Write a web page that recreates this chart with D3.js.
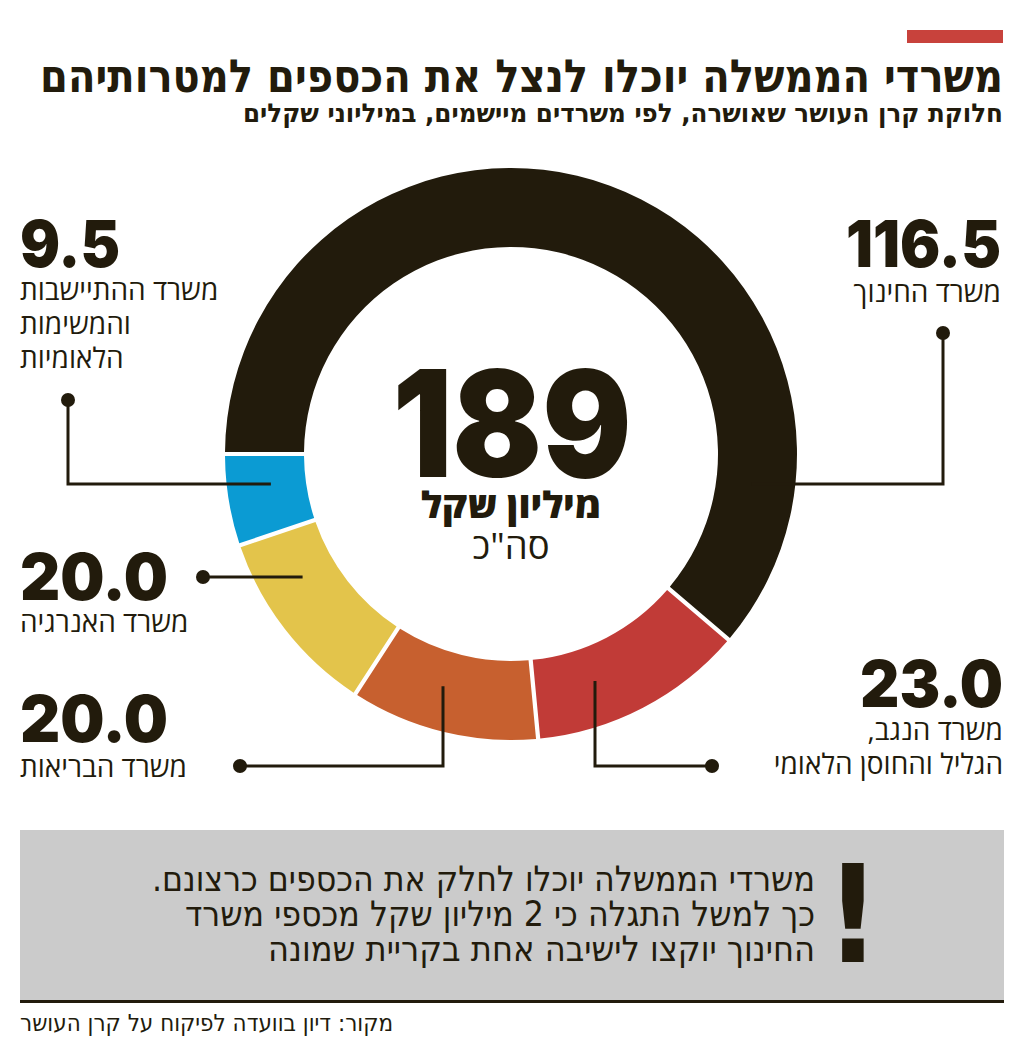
<!DOCTYPE html>
<html lang="he">
<head>
<meta charset="UTF-8">
<title>קרן העושר</title>
<script src="https://d3js.org/d3.v7.min.js"></script>
<style>
  body { margin: 0; background: #fff; }
  svg { display: block; }
  .heb { direction: rtl; }
  .num { font-family: Inter, Lato, sans-serif; font-weight: 900; fill: #221b0c; }
  .lbl { font-family: "Open Sans", "DejaVu Sans", sans-serif; fill: #221b0c; }
  .cond { font-family: "DejaVu Sans Condensed", "Liberation Sans Narrow", sans-serif; fill: #221b0c; }
</style>
</head>
<body>
<svg id="chart" width="1024" height="1047"></svg>
<script>
// data
const offices = ["משרד החינוך", "משרד הנגב, הגליל והחוסן הלאומי", "משרד הבריאות", "משרד האנרגיה", "משרד ההתיישבות והמשימות הלאומיות"];
const labelLines = [
  ["משרד החינוך"],
  ["משרד הנגב,", "הגליל והחוסן הלאומי"],
  ["משרד הבריאות"],
  ["משרד האנרגיה"],
  ["משרד ההתיישבות", "והמשימות", "הלאומיות"]
];
const amounts = [116.5, 23.0, 20.0, 20.0, 9.5];
const sliceColors = ["#221b0c", "#c13b37", "#c7602f", "#e3c44b", "#0b9bd3"];

const title = "משרדי הממשלה יוכלו לנצל את הכספים למטרותיהם";
const subtitle = "חלוקת קרן העושר שאושרה, לפי משרדים מיישמים, במיליוני שקלים";
const centerUnit = "מיליון שקל";
const centerNote = "סה\"כ";
const noteLines = ["משרדי הממשלה יוכלו לחלק את הכספים כרצונם.", "כך למשל התגלה כי 2 מיליון שקל מכספי משרד", "החינוך יוקצו לישיבה אחת בקריית שמונה"];
const source = "מקור: דיון בוועדה לפיקוח על קרן העושר";

// layout (per slice, same order as amounts)
const layout = [
  { side: "right", x: 1001, numY: 267, numW: 155, lblY: 302, leader: { mode: "h", y: 484, cornerX: 943, dotY: 333 } },
  { side: "right", x: 1003, numY: 707, numW: 143, lblY: 740, leader: { mode: "v", x: 595, dotX: 712, dotY: 766 } },
  { side: "left",  x: 20,   numY: 742, numW: 148, lblY: 777, leader: { mode: "v", x: 443, dotX: 240, dotY: 766 } },
  { side: "left",  x: 20,   numY: 600, numW: 148, lblY: 632, leader: { mode: "h", y: 577, cornerX: 203, dotY: 577 } },
  { side: "left",  x: 20,   numY: 267, numW: 100, lblY: 300, leader: { mode: "h", y: 484, cornerX: 68, dotY: 400 } }
];

const svg = d3.select("#chart");
const ink = "#221b0c";
const cx = 511, cy = 454, rIn = 207, rOut = 286, rLead = 242;

// header
svg.append("rect").attr("x", 907).attr("y", 30).attr("width", 96).attr("height", 13).attr("fill", "#c8423c");
svg.append("text").attr("class", "cond heb").attr("x", 1003).attr("y", 92)
  .attr("font-size", 46).attr("font-weight", 700)
  .attr("textLength", 963).attr("lengthAdjust", "spacingAndGlyphs")
  .text(title);
svg.append("text").attr("class", "cond heb").attr("x", 1003).attr("y", 122)
  .attr("font-size", 26).attr("font-weight", 700)
  .attr("textLength", 760).attr("lengthAdjust", "spacingAndGlyphs")
  .text(subtitle);

// donut
const pie = d3.pie().sort(null).value(d => d)
  .startAngle(-Math.PI / 2).endAngle(Math.PI * 1.5).padAngle(0.012);
const arc = d3.arc().innerRadius(rIn).outerRadius(rOut);
const arcs = pie(amounts);

const g = svg.append("g").attr("transform", `translate(${cx},${cy})`);
g.selectAll("path").data(arcs).enter().append("path")
  .attr("d", arc)
  .attr("fill", (d, i) => sliceColors[i]);

// center
const total = d3.sum(amounts);
svg.append("text").attr("class", "num").attr("x", cx + 1).attr("y", 477)
  .attr("text-anchor", "middle").attr("font-size", 148)
  .attr("textLength", 239).attr("lengthAdjust", "spacingAndGlyphs")
  .text(d3.format("d")(total));
svg.append("text").attr("class", "lbl heb").attr("x", cx).attr("y", 518)
  .attr("text-anchor", "middle").attr("font-size", 36).attr("font-weight", 800)
  .attr("textLength", 180).attr("lengthAdjust", "spacingAndGlyphs")
  .text(centerUnit);
svg.append("text").attr("class", "lbl heb").attr("x", cx).attr("y", 559)
  .attr("text-anchor", "middle").attr("font-size", 36)
  .attr("textLength", 77).attr("lengthAdjust", "spacingAndGlyphs")
  .text(centerNote);

// leaders
function leaderPoints(L, side) {
  if (L.mode === "h") {
    const dy = L.y - cy;
    const dx = Math.sqrt(rLead * rLead - dy * dy) * (side === "right" ? 1 : -1);
    return [[cx + dx, L.y], [L.cornerX, L.y], [L.cornerX, L.dotY]];
  }
  const dx = L.x - cx;
  const dy = Math.sqrt(rLead * rLead - dx * dx);
  return [[L.x, cy + dy], [L.x, L.dotY], [L.dotX, L.dotY]];
}
const line = d3.line();
layout.forEach((o, i) => {
  const pts = leaderPoints(o.leader, o.side);
  svg.append("path").attr("d", line(pts)).attr("fill", "none")
    .attr("stroke", ink).attr("stroke-width", 3);
  const end = pts[pts.length - 1];
  svg.append("circle").attr("cx", end[0]).attr("cy", end[1]).attr("r", 7).attr("fill", ink);
});

// labels
const fmt = d3.format(".1f");
layout.forEach((o, i) => {
  svg.append("text").attr("class", "num")
    .attr("x", o.x).attr("y", o.numY)
    .attr("text-anchor", o.side === "right" ? "end" : "start")
    .attr("font-size", 65)
    .attr("textLength", o.numW).attr("lengthAdjust", "spacingAndGlyphs")
    .text(fmt(amounts[i]));
  labelLines[i].forEach((t, j) => {
    svg.append("text").attr("class", "lbl heb")
      .attr("x", o.x).attr("y", o.lblY + j * 34)
      .attr("font-size", 28)
      .attr("text-anchor", o.side === "right" ? "start" : "end")
      .text(t);
  });
});

// note box
svg.append("rect").attr("x", 20).attr("y", 830).attr("width", 984).attr("height", 170).attr("fill", "#cbcbcb");
svg.append("line").attr("x1", 20).attr("x2", 1004).attr("y1", 1001.5).attr("y2", 1001.5)
  .attr("stroke", ink).attr("stroke-width", 3);
const noteW = [663, 630, 547];
noteLines.forEach((t, j) => {
  svg.append("text").attr("class", "cond heb").attr("x", 815).attr("y", 891 + j * 35)
    .attr("font-size", 35)
    .attr("textLength", noteW[j]).attr("lengthAdjust", "spacingAndGlyphs")
    .text(t);
});
svg.append("text").attr("class", "cond").attr("x", 853).attr("y", 962)
  .attr("text-anchor", "middle").attr("font-size", 136).attr("font-weight", 700)
  .text("!");

// source
svg.append("text").attr("class", "cond heb").attr("x", 20).attr("y", 1031)
  .attr("text-anchor", "end").attr("font-size", 23)
  .attr("textLength", 373).attr("lengthAdjust", "spacingAndGlyphs")
  .text(source);
</script>
</body>
</html>
